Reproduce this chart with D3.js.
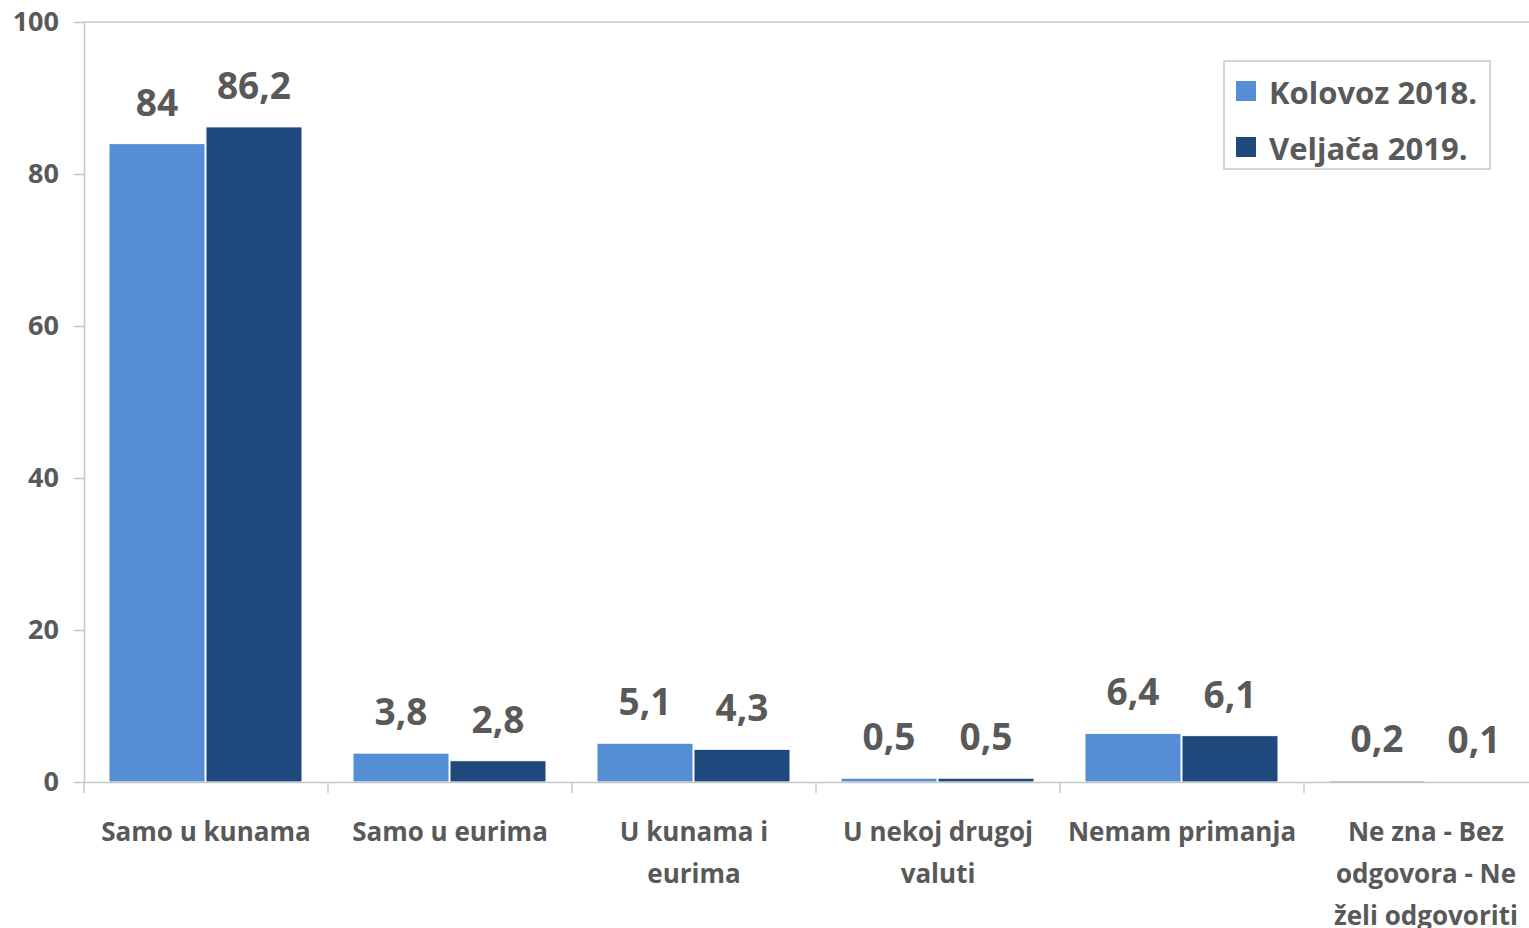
<!DOCTYPE html>
<html>
<head>
<meta charset="utf-8">
<script src="https://cdn.jsdelivr.net/npm/d3@7"></script>
<style>
  body { margin: 0; background: #fff; overflow: hidden; }
  text { font-family: "Open Sans", Lato, sans-serif; font-weight: bold; fill: #595959; }
</style>
</head>
<body>
<div class="canvas"></div>
<script>
// data
const categories = ["Samo u kunama", "Samo u eurima", "U kunama i\neurima", "U nekoj drugoj\nvaluti", "Nemam primanja", "Ne zna - Bez\nodgovora - Ne\nželi odgovoriti"];
const seriesNames = ["Kolovoz 2018.", "Veljača 2019."];
const kolovoz = [84, 3.8, 5.1, 0.5, 6.4, 0.2];
const veljaca = [86.2, 2.8, 4.3, 0.5, 6.1, 0.1];
const yTicks = [0, 20, 40, 60, 80, 100];
const colors = ["#558ED5", "#1F497D"];

// plot runs a bit past the right edge, like the original
const margin = {top: 22, right: -19, bottom: 146, left: 84},
    width = 1529 - margin.left - margin.right,
    height = 928 - margin.top - margin.bottom;

const svg = d3.select(".canvas")
  .append("svg")
    .attr("width", 1529)
    .attr("height", 928)
  .append("g")
    .attr("transform", `translate(${margin.left},${margin.top})`);

const rows = categories.map((c, i) => ({cat: c, vals: [kolovoz[i], veljaca[i]]}));

const x = d3.scaleBand().domain(categories).range([0, width]).paddingInner(0).paddingOuter(0);
const xs = d3.scaleBand().domain([0, 1]).range([25, x.bandwidth() - 26]).paddingInner(0.01);
const y = d3.scaleLinear().domain([0, 100]).range([height, 0]);

// gridline at the top
svg.append("line")
    .attr("x1", 0).attr("x2", width)
    .attr("y1", y(100)).attr("y2", y(100))
    .attr("stroke", "#c8c8c8").attr("stroke-width", 1.5);

// y axis
const yAxis = svg.append("g")
    .call(d3.axisLeft(y).tickValues(yTicks).tickSize(10).tickPadding(15).tickSizeOuter(0));
yAxis.select(".domain").attr("stroke", "#c8c8c8").attr("stroke-width", 1.5);
yAxis.selectAll(".tick line").attr("stroke", "#c8c8c8").attr("stroke-width", 1.5);
yAxis.selectAll(".tick text").style("font-size", "27px").attr("fill", "#595959");

// bars
const groups = svg.selectAll(".grp")
  .data(rows)
  .join("g")
    .attr("transform", d => `translate(${x(d.cat)},0)`);

groups.selectAll("rect")
  .data(d => d.vals.map((v, j) => ({v, j})))
  .join("rect")
    .attr("x", d => xs(d.j))
    .attr("y", d => y(d.v))
    .attr("width", xs.bandwidth())
    .attr("height", d => y(0) - y(d.v))
    .attr("fill", d => colors[d.j])
    .attr("stroke", "#fff")
    .attr("stroke-width", 1);

groups.selectAll(".val")
  .data(d => d.vals.map((v, j) => ({v, j})))
  .join("text")
    .attr("class", "val")
    .attr("x", d => xs(d.j) + xs.bandwidth() / 2)
    .attr("y", d => y(d.v) - 28)
    .attr("text-anchor", "middle")
    .style("font-size", "37px")
    .text(d => String(d.v).replace(".", ","));

// x axis
const xAxis = svg.append("g")
    .attr("transform", `translate(0,${height})`)
    .call(d3.axisBottom(x).tickSize(0).tickFormat(""));
xAxis.select(".domain").attr("stroke", "#c8c8c8").attr("stroke-width", 1.5);

// tick marks between categories
svg.selectAll(".xt")
  .data(categories)
  .join("line")
    .attr("x1", d => x(d)).attr("x2", d => x(d))
    .attr("y1", height).attr("y2", height + 11)
    .attr("stroke", "#c8c8c8").attr("stroke-width", 1.5);

// category labels
const catLabels = svg.selectAll(".cat")
  .data(categories)
  .join("text")
    .attr("class", "cat")
    .attr("text-anchor", "middle")
    .attr("transform", d => `translate(${x(d) + x.bandwidth() / 2},${height + 59})`)
    .style("font-size", "26px");
catLabels.selectAll("tspan")
  .data(d => d.split("\n"))
  .join("tspan")
    .attr("x", 0)
    .attr("y", (d, i) => i * 42)
    .text(d => d);

// legend
const legend = svg.append("g").attr("transform", `translate(${1224 - margin.left},${61 - margin.top})`);
legend.append("rect")
    .attr("width", 266).attr("height", 108)
    .attr("fill", "#fff").attr("stroke", "#c8c8c8").attr("stroke-width", 1.5);
seriesNames.forEach((s, i) => {
  legend.append("rect")
      .attr("x", 12).attr("y", 20 + i * 56)
      .attr("width", 20).attr("height", 20)
      .attr("fill", colors[i]);
  legend.append("text")
      .attr("x", 45).attr("y", 43 + i * 56)
      .style("font-size", "31px")
      .text(s);
});
</script>
</body>
</html>
